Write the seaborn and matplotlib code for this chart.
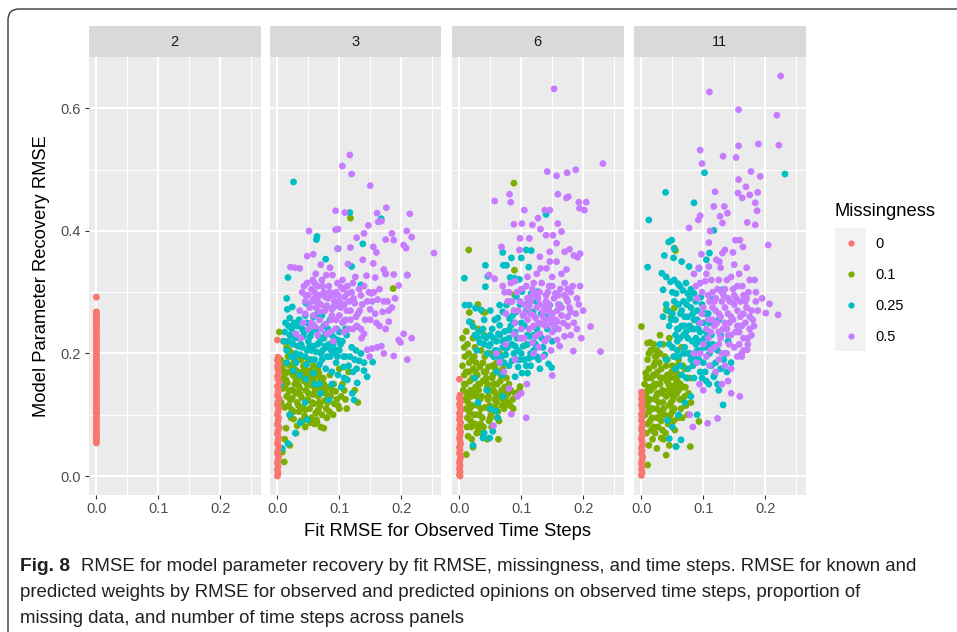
import matplotlib
matplotlib.use("Agg")
import matplotlib.pyplot as plt
import seaborn as sns
import pandas as pd
from matplotlib.patches import FancyBboxPatch
from matplotlib.transforms import IdentityTransform
from matplotlib.ticker import FixedLocator

# ---------------- data ----------------
panels = ["2", "3", "6", "11"]
levels = ["0", "0.1", "0.25", "0.5"]
colors = ["#F8766D", "#7CAE00", "#00BFC4", "#C77CFF"]
x_ticks = [0.0, 0.1, 0.2]
x_tick_labels = ["0.0", "0.1", "0.2"]
y_ticks = [0.0, 0.2, 0.4, 0.6]
y_tick_labels = ["0.0", "0.2", "0.4", "0.6"]

# Missingness 0 (fit RMSE ~0)
red_p2_y = [0.292, 0.268, 0.265, 0.262, 0.258, 0.255, 0.251, 0.247, 0.244, 0.240, 0.236, 0.232,
            0.228, 0.224, 0.220, 0.216, 0.212, 0.208, 0.204, 0.200, 0.196, 0.192, 0.188, 0.184,
            0.180, 0.176, 0.172, 0.168, 0.164, 0.160, 0.156, 0.152, 0.148, 0.144, 0.140, 0.136,
            0.132, 0.128, 0.124, 0.120, 0.116, 0.112, 0.108, 0.104, 0.100, 0.096, 0.092, 0.088,
            0.084, 0.080, 0.076, 0.072, 0.068, 0.064, 0.060, 0.057, 0.054]
red_p3 = [(0.000, 0.222), (0.001, 0.194), (0.000, 0.189), (0.002, 0.184), (0.000, 0.179), (0.001, 0.174),
          (0.002, 0.168), (0.000, 0.163), (0.001, 0.158), (0.003, 0.152), (0.000, 0.147), (0.002, 0.142),
          (0.001, 0.137), (0.000, 0.131), (0.003, 0.126), (0.001, 0.121), (0.000, 0.116), (0.002, 0.110),
          (0.001, 0.105), (0.000, 0.100), (0.002, 0.095), (0.001, 0.090), (0.000, 0.084), (0.003, 0.079),
          (0.001, 0.074), (0.000, 0.069), (0.002, 0.063), (0.001, 0.058), (0.000, 0.053), (0.002, 0.048),
          (0.001, 0.042), (0.000, 0.037), (0.002, 0.032), (0.001, 0.026), (0.000, 0.021), (0.001, 0.016),
          (0.000, 0.010), (0.001, 0.005), (0.000, 0.000)]
red_p6 = [(0.000, 0.158), (0.001, 0.132), (0.000, 0.127), (0.002, 0.122), (0.000, 0.117), (0.001, 0.112),
          (0.002, 0.107), (0.000, 0.102), (0.001, 0.097), (0.000, 0.092), (0.002, 0.087), (0.001, 0.082),
          (0.000, 0.077), (0.002, 0.072), (0.001, 0.067), (0.000, 0.062), (0.001, 0.057), (0.002, 0.052),
          (0.000, 0.047), (0.001, 0.042), (0.000, 0.037), (0.002, 0.032), (0.001, 0.027), (0.000, 0.022),
          (0.001, 0.017), (0.000, 0.012), (0.001, 0.007), (0.000, 0.002), (0.001, 0.000)]
red_p11 = [(0.000, 0.137), (0.001, 0.131), (0.000, 0.126), (0.002, 0.121), (0.000, 0.116), (0.001, 0.111),
           (0.002, 0.106), (0.000, 0.101), (0.001, 0.096), (0.000, 0.091), (0.002, 0.086), (0.001, 0.081),
           (0.000, 0.076), (0.002, 0.071), (0.001, 0.066), (0.000, 0.061), (0.001, 0.056), (0.002, 0.051),
           (0.000, 0.046), (0.001, 0.041), (0.000, 0.036), (0.002, 0.031), (0.001, 0.026), (0.000, 0.021),
           (0.001, 0.016), (0.000, 0.011), (0.001, 0.006), (0.000, 0.001)]

# Panel 3
green_p3 = [(0.005, 0.190), (0.008, 0.175), (0.010, 0.160), (0.012, 0.145), (0.015, 0.130), (0.018, 0.115),
            (0.020, 0.100), (0.022, 0.180), (0.025, 0.165), (0.028, 0.150), (0.030, 0.135), (0.032, 0.120),
            (0.035, 0.105), (0.038, 0.090), (0.040, 0.170), (0.043, 0.155), (0.046, 0.140), (0.049, 0.125),
            (0.052, 0.110), (0.055, 0.095), (0.058, 0.180), (0.060, 0.160), (0.063, 0.145), (0.066, 0.130),
            (0.069, 0.115), (0.072, 0.100), (0.075, 0.150), (0.078, 0.135), (0.081, 0.120), (0.084, 0.105),
            (0.088, 0.140), (0.092, 0.118), (0.096, 0.125), (0.100, 0.110), (0.105, 0.150), (0.110, 0.125),
            (0.060, 0.085), (0.045, 0.080), (0.030, 0.070), (0.012, 0.060), (0.020, 0.050), (0.011, 0.023),
            (0.008, 0.039), (0.003, 0.235), (0.010, 0.220), (0.118, 0.421), (0.187, 0.306), (0.078, 0.276),
            (0.015, 0.210), (0.035, 0.195), (0.050, 0.190), (0.065, 0.175), (0.085, 0.165), (0.100, 0.175),
            (0.115, 0.170), (0.125, 0.140), (0.130, 0.120), (0.070, 0.080), (0.075, 0.078), (0.040, 0.088),
            (0.025, 0.140), (0.018, 0.170), (0.048, 0.168), (0.068, 0.152), (0.090, 0.100), (0.006, 0.120)]
green_p3_more = [(0.007, 0.150), (0.009, 0.185), (0.013, 0.168), (0.016, 0.152), (0.019, 0.138), (0.021, 0.124),
                 (0.023, 0.108), (0.026, 0.093), (0.027, 0.188), (0.031, 0.172), (0.033, 0.158), (0.036, 0.143),
                 (0.039, 0.128), (0.041, 0.112), (0.044, 0.098), (0.047, 0.183), (0.051, 0.162), (0.054, 0.148),
                 (0.057, 0.133), (0.059, 0.118), (0.062, 0.103), (0.064, 0.088), (0.067, 0.168), (0.071, 0.158),
                 (0.073, 0.140), (0.076, 0.123), (0.079, 0.110), (0.083, 0.145), (0.086, 0.130), (0.091, 0.150),
                 (0.094, 0.138), (0.098, 0.115), (0.103, 0.130), (0.108, 0.140), (0.112, 0.110), (0.017, 0.195),
                 (0.024, 0.200), (0.042, 0.180), (0.014, 0.078), (0.032, 0.082), (0.053, 0.087), (0.080, 0.095),
                 (0.063, 0.092)]
green_p3_core = [(0.010, 0.170), (0.014, 0.157), (0.017, 0.182), (0.021, 0.140), (0.024, 0.127), (0.027, 0.175),
                 (0.029, 0.160), (0.034, 0.148), (0.037, 0.133), (0.041, 0.163), (0.044, 0.177), (0.048, 0.150),
                 (0.050, 0.135), (0.053, 0.172), (0.056, 0.158), (0.061, 0.140), (0.064, 0.165), (0.068, 0.120),
                 (0.071, 0.145), (0.074, 0.160), (0.009, 0.143), (0.012, 0.112), (0.022, 0.095), (0.034, 0.115),
                 (0.045, 0.108), (0.056, 0.120), (0.066, 0.108), (0.077, 0.142), (0.082, 0.130), (0.038, 0.190),
                 (0.019, 0.205), (0.026, 0.105)]
cyan_p3 = [(0.026, 0.480), (0.117, 0.430), (0.064, 0.391), (0.063, 0.386), (0.098, 0.371), (0.138, 0.379),
           (0.078, 0.354), (0.168, 0.420), (0.017, 0.324), (0.120, 0.342), (0.175, 0.330), (0.210, 0.328),
           (0.135, 0.312), (0.015, 0.290), (0.016, 0.272), (0.024, 0.276), (0.046, 0.282), (0.072, 0.262),
           (0.091, 0.276), (0.129, 0.244), (0.107, 0.252), (0.086, 0.232), (0.010, 0.220), (0.015, 0.205),
           (0.020, 0.230), (0.025, 0.215), (0.030, 0.200), (0.035, 0.225), (0.040, 0.210), (0.045, 0.195),
           (0.050, 0.220), (0.055, 0.205), (0.060, 0.190), (0.065, 0.215), (0.070, 0.200), (0.075, 0.225),
           (0.080, 0.210), (0.085, 0.195), (0.090, 0.215), (0.095, 0.185), (0.100, 0.205), (0.105, 0.220),
           (0.110, 0.195), (0.115, 0.180), (0.120, 0.210), (0.125, 0.190), (0.030, 0.185), (0.040, 0.240),
           (0.055, 0.235), (0.068, 0.182), (0.078, 0.175), (0.088, 0.170), (0.098, 0.165), (0.108, 0.160),
           (0.128, 0.175), (0.135, 0.200), (0.140, 0.185), (0.145, 0.162), (0.140, 0.172), (0.129, 0.152),
           (0.124, 0.124), (0.121, 0.135), (0.113, 0.157), (0.154, 0.186), (0.094, 0.206), (0.107, 0.195),
           (0.017, 0.053), (0.008, 0.045), (0.029, 0.070), (0.037, 0.087), (0.048, 0.092), (0.083, 0.124),
           (0.070, 0.135), (0.020, 0.100), (0.045, 0.120), (0.060, 0.150), (0.005, 0.150)]
cyan_p3_more = [(0.012, 0.235), (0.018, 0.245), (0.022, 0.195), (0.027, 0.250), (0.033, 0.212), (0.037, 0.198),
                (0.042, 0.228), (0.047, 0.182), (0.052, 0.212), (0.057, 0.248), (0.062, 0.203), (0.067, 0.228),
                (0.072, 0.190), (0.077, 0.212), (0.082, 0.240), (0.087, 0.205), (0.092, 0.225), (0.097, 0.195),
                (0.102, 0.215), (0.107, 0.178), (0.112, 0.230), (0.117, 0.195), (0.122, 0.170), (0.127, 0.205),
                (0.132, 0.188), (0.026, 0.172), (0.036, 0.165), (0.046, 0.158), (0.058, 0.168), (0.068, 0.150),
                (0.088, 0.150), (0.103, 0.145), (0.015, 0.185), (0.058, 0.260), (0.075, 0.245), (0.048, 0.250),
                (0.020, 0.258), (0.110, 0.240), (0.096, 0.240)]
cyan_p3_core = [(0.018, 0.220), (0.023, 0.240), (0.028, 0.225), (0.032, 0.245), (0.038, 0.215), (0.043, 0.235),
                (0.048, 0.205), (0.053, 0.228), (0.058, 0.212), (0.063, 0.240), (0.068, 0.218), (0.073, 0.205),
                (0.078, 0.232), (0.083, 0.215), (0.088, 0.230), (0.093, 0.200), (0.098, 0.222), (0.035, 0.255),
                (0.045, 0.262), (0.065, 0.265), (0.085, 0.255), (0.100, 0.235), (0.013, 0.250), (0.028, 0.195),
                (0.055, 0.190), (0.080, 0.195)]
purple_p3 = [(0.117, 0.524), (0.105, 0.506), (0.120, 0.493), (0.150, 0.474), (0.094, 0.433), (0.109, 0.430),
             (0.161, 0.429), (0.176, 0.438), (0.214, 0.428), (0.163, 0.415), (0.168, 0.416), (0.147, 0.409),
             (0.051, 0.400), (0.094, 0.402), (0.098, 0.403), (0.140, 0.396), (0.128, 0.389), (0.185, 0.396),
             (0.209, 0.400), (0.217, 0.390), (0.175, 0.386), (0.188, 0.385), (0.204, 0.377), (0.208, 0.372),
             (0.253, 0.364), (0.118, 0.373), (0.155, 0.374), (0.160, 0.365), (0.048, 0.359), (0.058, 0.362),
             (0.097, 0.371), (0.021, 0.341), (0.028, 0.340), (0.036, 0.339), (0.070, 0.345), (0.079, 0.328),
             (0.089, 0.328), (0.114, 0.346), (0.138, 0.353), (0.155, 0.347), (0.172, 0.337), (0.126, 0.325),
             (0.144, 0.327), (0.158, 0.324), (0.175, 0.330), (0.188, 0.329), (0.196, 0.311), (0.210, 0.328),
             (0.040, 0.300), (0.048, 0.315), (0.055, 0.305), (0.060, 0.290), (0.065, 0.310), (0.045, 0.285),
             (0.052, 0.275), (0.058, 0.262), (0.070, 0.280), (0.075, 0.300), (0.082, 0.290), (0.088, 0.272),
             (0.095, 0.300), (0.100, 0.285), (0.108, 0.292), (0.112, 0.270), (0.120, 0.300), (0.125, 0.282),
             (0.130, 0.265), (0.135, 0.295), (0.140, 0.310), (0.145, 0.285), (0.150, 0.272), (0.156, 0.300),
             (0.162, 0.288), (0.170, 0.268), (0.178, 0.285), (0.185, 0.275), (0.036, 0.270), (0.042, 0.250),
             (0.050, 0.240), (0.060, 0.245), (0.068, 0.255), (0.078, 0.248), (0.085, 0.235), (0.095, 0.255),
             (0.105, 0.250), (0.115, 0.240), (0.030, 0.232), (0.038, 0.225), (0.065, 0.230), (0.090, 0.220),
             (0.100, 0.262), (0.128, 0.245), (0.140, 0.232), (0.160, 0.250), (0.175, 0.240), (0.145, 0.206),
             (0.153, 0.208), (0.161, 0.210), (0.172, 0.200), (0.188, 0.196), (0.196, 0.222), (0.204, 0.232),
             (0.210, 0.190), (0.217, 0.225), (0.199, 0.218), (0.168, 0.212), (0.149, 0.195), (0.136, 0.225),
             (0.122, 0.240), (0.180, 0.252), (0.118, 0.255)]
purple_p3_more = [(0.043, 0.310), (0.050, 0.295), (0.057, 0.320), (0.062, 0.275), (0.067, 0.295), (0.072, 0.320),
                  (0.077, 0.270), (0.083, 0.310), (0.087, 0.255), (0.092, 0.285), (0.097, 0.315), (0.102, 0.275),
                  (0.106, 0.305), (0.110, 0.255), (0.116, 0.285), (0.122, 0.315), (0.127, 0.260), (0.132, 0.305),
                  (0.137, 0.280), (0.142, 0.255), (0.148, 0.300), (0.153, 0.285), (0.158, 0.265), (0.165, 0.305),
                  (0.172, 0.285), (0.180, 0.270), (0.190, 0.290), (0.055, 0.250), (0.070, 0.240), (0.080, 0.232),
                  (0.094, 0.240), (0.108, 0.235), (0.135, 0.240), (0.150, 0.255), (0.165, 0.245), (0.045, 0.265),
                  (0.062, 0.330), (0.085, 0.340), (0.105, 0.320)]
purple_p3_core = [(0.060, 0.300), (0.065, 0.285), (0.070, 0.295), (0.073, 0.310), (0.078, 0.292), (0.080, 0.278),
                  (0.085, 0.300), (0.090, 0.295), (0.093, 0.278), (0.098, 0.295), (0.103, 0.308), (0.108, 0.280),
                  (0.113, 0.298), (0.118, 0.270), (0.123, 0.290), (0.060, 0.315), (0.068, 0.268), (0.088, 0.262),
                  (0.056, 0.285), (0.046, 0.295), (0.113, 0.310), (0.133, 0.270), (0.152, 0.298)]

# Panel 6
green_p6 = [(0.088, 0.478), (0.015, 0.369), (0.089, 0.336), (0.005, 0.225), (0.008, 0.210), (0.011, 0.236),
            (0.016, 0.267), (0.038, 0.268), (0.041, 0.267), (0.108, 0.214), (0.089, 0.296), (0.098, 0.146),
            (0.097, 0.140), (0.063, 0.060), (0.022, 0.047), (0.011, 0.035), (0.030, 0.280), (0.020, 0.250),
            (0.005, 0.180), (0.008, 0.165), (0.010, 0.150), (0.012, 0.135), (0.014, 0.120), (0.016, 0.105),
            (0.018, 0.090), (0.020, 0.190), (0.022, 0.175), (0.024, 0.160), (0.026, 0.145), (0.028, 0.130),
            (0.030, 0.115), (0.032, 0.100), (0.034, 0.085), (0.036, 0.070), (0.038, 0.185), (0.040, 0.170),
            (0.042, 0.155), (0.044, 0.140), (0.046, 0.125), (0.048, 0.110), (0.050, 0.095), (0.052, 0.080),
            (0.054, 0.165), (0.056, 0.150), (0.058, 0.135), (0.060, 0.120), (0.062, 0.105), (0.064, 0.090),
            (0.066, 0.155), (0.068, 0.140), (0.070, 0.125), (0.072, 0.110), (0.075, 0.130), (0.078, 0.120),
            (0.082, 0.115), (0.086, 0.125), (0.050, 0.200), (0.060, 0.185), (0.070, 0.175), (0.015, 0.200),
            (0.025, 0.210), (0.045, 0.060), (0.028, 0.070), (0.012, 0.080), (0.020, 0.060), (0.035, 0.205),
            (0.080, 0.150), (0.090, 0.135), (0.065, 0.200), (0.018, 0.140), (0.033, 0.150), (0.047, 0.178)]
green_p6_more = [(0.006, 0.140), (0.009, 0.125), (0.011, 0.110), (0.013, 0.095), (0.015, 0.170), (0.017, 0.155),
                 (0.019, 0.130), (0.021, 0.115), (0.023, 0.100), (0.025, 0.085), (0.027, 0.185), (0.029, 0.165),
                 (0.031, 0.140), (0.033, 0.125), (0.035, 0.110), (0.037, 0.095), (0.039, 0.080), (0.041, 0.195),
                 (0.043, 0.160), (0.045, 0.145), (0.047, 0.130), (0.049, 0.115), (0.051, 0.100), (0.053, 0.180),
                 (0.055, 0.140), (0.057, 0.125), (0.059, 0.110), (0.061, 0.095), (0.063, 0.170), (0.067, 0.130),
                 (0.069, 0.115), (0.073, 0.145), (0.076, 0.160), (0.079, 0.135), (0.083, 0.140), (0.087, 0.110),
                 (0.009, 0.195), (0.013, 0.215), (0.022, 0.225), (0.030, 0.240), (0.040, 0.230)]
green_p6_core = [(0.008, 0.150), (0.011, 0.170), (0.013, 0.128), (0.016, 0.185), (0.018, 0.112), (0.021, 0.160),
                 (0.023, 0.138), (0.026, 0.170), (0.028, 0.100), (0.031, 0.150), (0.033, 0.178), (0.036, 0.130),
                 (0.038, 0.155), (0.041, 0.112), (0.043, 0.170), (0.046, 0.150), (0.048, 0.090), (0.051, 0.140),
                 (0.053, 0.160), (0.056, 0.112), (0.058, 0.175), (0.061, 0.150), (0.064, 0.130), (0.067, 0.165),
                 (0.071, 0.140), (0.074, 0.118), (0.024, 0.195), (0.014, 0.065), (0.030, 0.078), (0.019, 0.080)]
cyan_p6 = [(0.140, 0.427), (0.008, 0.323), (0.042, 0.344), (0.042, 0.309), (0.046, 0.326), (0.071, 0.344),
           (0.076, 0.344), (0.070, 0.365), (0.084, 0.356), (0.100, 0.356), (0.108, 0.369), (0.116, 0.368),
           (0.112, 0.341), (0.082, 0.324), (0.089, 0.323), (0.097, 0.321), (0.009, 0.279), (0.016, 0.279),
           (0.026, 0.274), (0.035, 0.271), (0.016, 0.252), (0.022, 0.244), (0.032, 0.236), (0.065, 0.279),
           (0.076, 0.279), (0.084, 0.285), (0.092, 0.293), (0.101, 0.301), (0.116, 0.298), (0.127, 0.301),
           (0.057, 0.255), (0.065, 0.246), (0.073, 0.236), (0.081, 0.257), (0.092, 0.268), (0.103, 0.262),
           (0.119, 0.268), (0.146, 0.279), (0.162, 0.279), (0.140, 0.260), (0.030, 0.225), (0.040, 0.215),
           (0.050, 0.230), (0.060, 0.220), (0.070, 0.210), (0.080, 0.225), (0.090, 0.212), (0.100, 0.200),
           (0.110, 0.215), (0.120, 0.205), (0.045, 0.200), (0.055, 0.195), (0.065, 0.185), (0.075, 0.198),
           (0.085, 0.188), (0.095, 0.178), (0.105, 0.190), (0.115, 0.180), (0.125, 0.195), (0.130, 0.175),
           (0.038, 0.240), (0.028, 0.205), (0.060, 0.170), (0.090, 0.162), (0.101, 0.168), (0.144, 0.183),
           (0.149, 0.177), (0.135, 0.210), (0.120, 0.230), (0.038, 0.062), (0.049, 0.062), (0.040, 0.070),
           (0.054, 0.073), (0.062, 0.095), (0.059, 0.106), (0.022, 0.050), (0.030, 0.120), (0.045, 0.140),
           (0.050, 0.110), (0.070, 0.130), (0.025, 0.160)]
cyan_p6_more = [(0.025, 0.230), (0.033, 0.218), (0.043, 0.225), (0.048, 0.212), (0.053, 0.240), (0.058, 0.205),
                (0.063, 0.232), (0.068, 0.195), (0.073, 0.222), (0.078, 0.210), (0.083, 0.245), (0.088, 0.200),
                (0.093, 0.225), (0.098, 0.190), (0.103, 0.212), (0.108, 0.180), (0.113, 0.228), (0.118, 0.195),
                (0.123, 0.215), (0.128, 0.190), (0.133, 0.225), (0.138, 0.198), (0.142, 0.240), (0.062, 0.258),
                (0.070, 0.268), (0.086, 0.262), (0.098, 0.280), (0.108, 0.270), (0.112, 0.285), (0.124, 0.285),
                (0.132, 0.265), (0.155, 0.240), (0.150, 0.220), (0.080, 0.180), (0.070, 0.165), (0.110, 0.168),
                (0.040, 0.255), (0.050, 0.270)]
cyan_p6_core = [(0.050, 0.215), (0.055, 0.225), (0.060, 0.205), (0.065, 0.230), (0.070, 0.220), (0.075, 0.208),
                (0.080, 0.238), (0.085, 0.215), (0.090, 0.235), (0.095, 0.205), (0.100, 0.225), (0.105, 0.245),
                (0.110, 0.230), (0.115, 0.200), (0.120, 0.218), (0.062, 0.195), (0.072, 0.185), (0.092, 0.190),
                (0.112, 0.192), (0.040, 0.228), (0.125, 0.240), (0.088, 0.250), (0.100, 0.250)]
purple_p6 = [(0.153, 0.632), (0.232, 0.510), (0.142, 0.497), (0.157, 0.490), (0.174, 0.495), (0.188, 0.500),
             (0.159, 0.460), (0.173, 0.454), (0.176, 0.456), (0.193, 0.447), (0.205, 0.447), (0.194, 0.437),
             (0.202, 0.434), (0.057, 0.449), (0.081, 0.460), (0.083, 0.447), (0.105, 0.434), (0.138, 0.434),
             (0.146, 0.434), (0.088, 0.411), (0.101, 0.412), (0.118, 0.410), (0.127, 0.421), (0.159, 0.412),
             (0.131, 0.403), (0.140, 0.393), (0.151, 0.393), (0.157, 0.380), (0.165, 0.399), (0.098, 0.388),
             (0.113, 0.388), (0.068, 0.374), (0.146, 0.366), (0.170, 0.366), (0.178, 0.370), (0.185, 0.360),
             (0.195, 0.363), (0.191, 0.357), (0.097, 0.369), (0.130, 0.358), (0.146, 0.350), (0.157, 0.350),
             (0.173, 0.337), (0.141, 0.339), (0.131, 0.339), (0.048, 0.328), (0.057, 0.322), (0.070, 0.310),
             (0.080, 0.300), (0.090, 0.318), (0.100, 0.305), (0.110, 0.290), (0.120, 0.315), (0.130, 0.300),
             (0.140, 0.285), (0.150, 0.310), (0.160, 0.295), (0.170, 0.315), (0.180, 0.300), (0.190, 0.290),
             (0.195, 0.310), (0.085, 0.285), (0.095, 0.270), (0.105, 0.280), (0.115, 0.265), (0.125, 0.275),
             (0.135, 0.260), (0.145, 0.270), (0.155, 0.255), (0.165, 0.275), (0.175, 0.260), (0.185, 0.250),
             (0.075, 0.265), (0.090, 0.250), (0.100, 0.240), (0.110, 0.255), (0.120, 0.245), (0.130, 0.232),
             (0.140, 0.245), (0.150, 0.235), (0.160, 0.240), (0.170, 0.228), (0.105, 0.225), (0.118, 0.218),
             (0.128, 0.210), (0.138, 0.220), (0.148, 0.205), (0.162, 0.212), (0.180, 0.230), (0.200, 0.270),
             (0.110, 0.325), (0.125, 0.330), (0.150, 0.325), (0.165, 0.330), (0.212, 0.244), (0.228, 0.203),
             (0.197, 0.225), (0.184, 0.204), (0.084, 0.101), (0.108, 0.095), (0.109, 0.150), (0.100, 0.135),
             (0.094, 0.130), (0.065, 0.186), (0.080, 0.143), (0.055, 0.082), (0.150, 0.164), (0.072, 0.170),
             (0.090, 0.190), (0.060, 0.200), (0.075, 0.215)]
purple_p6_more = [(0.073, 0.300), (0.078, 0.285), (0.083, 0.315), (0.088, 0.270), (0.093, 0.300), (0.098, 0.285),
                  (0.103, 0.262), (0.108, 0.310), (0.113, 0.278), (0.118, 0.295), (0.123, 0.258), (0.127, 0.290),
                  (0.133, 0.315), (0.137, 0.275), (0.143, 0.300), (0.147, 0.258), (0.153, 0.290), (0.158, 0.270),
                  (0.163, 0.305), (0.168, 0.250), (0.173, 0.290), (0.178, 0.275), (0.183, 0.310), (0.188, 0.265),
                  (0.193, 0.280), (0.113, 0.240), (0.123, 0.228), (0.133, 0.248), (0.143, 0.225), (0.153, 0.245),
                  (0.158, 0.222), (0.175, 0.245), (0.190, 0.240), (0.120, 0.200), (0.135, 0.195), (0.098, 0.225),
                  (0.088, 0.232)]
purple_p6_core = [(0.105, 0.265), (0.110, 0.275), (0.115, 0.285), (0.120, 0.262), (0.125, 0.298), (0.130, 0.280),
                  (0.135, 0.268), (0.140, 0.295), (0.145, 0.280), (0.150, 0.265), (0.155, 0.298), (0.160, 0.280),
                  (0.165, 0.262), (0.170, 0.295), (0.175, 0.285), (0.180, 0.268), (0.128, 0.250), (0.138, 0.255),
                  (0.148, 0.250), (0.158, 0.252), (0.118, 0.305), (0.145, 0.310), (0.175, 0.305)]

# Panel 11
green_p11 = [(0.000, 0.244), (0.053, 0.372), (0.055, 0.368), (0.040, 0.271), (0.053, 0.274), (0.048, 0.260),
             (0.010, 0.217), (0.014, 0.218), (0.018, 0.206), (0.024, 0.195), (0.007, 0.168), (0.079, 0.048),
             (0.056, 0.048), (0.040, 0.034), (0.010, 0.018), (0.093, 0.089), (0.005, 0.150), (0.008, 0.135),
             (0.010, 0.120), (0.012, 0.105), (0.014, 0.090), (0.016, 0.075), (0.018, 0.060), (0.020, 0.180),
             (0.022, 0.165), (0.024, 0.150), (0.026, 0.135), (0.028, 0.120), (0.030, 0.105), (0.032, 0.090),
             (0.034, 0.075), (0.036, 0.060), (0.038, 0.195), (0.040, 0.180), (0.042, 0.165), (0.044, 0.150),
             (0.046, 0.135), (0.048, 0.120), (0.050, 0.105), (0.052, 0.090), (0.054, 0.075), (0.056, 0.170),
             (0.058, 0.155), (0.060, 0.140), (0.062, 0.125), (0.064, 0.110), (0.066, 0.095), (0.068, 0.145),
             (0.070, 0.130), (0.072, 0.115), (0.075, 0.100), (0.030, 0.200), (0.050, 0.210), (0.060, 0.190),
             (0.070, 0.175), (0.020, 0.215), (0.010, 0.190), (0.006, 0.100), (0.025, 0.045), (0.045, 0.050),
             (0.080, 0.120), (0.065, 0.210), (0.078, 0.160), (0.030, 0.230), (0.045, 0.225), (0.015, 0.140),
             (0.035, 0.160), (0.052, 0.145), (0.025, 0.095), (0.043, 0.085)]
green_p11_more = [(0.007, 0.130), (0.009, 0.115), (0.011, 0.160), (0.013, 0.145), (0.015, 0.110), (0.017, 0.095),
                  (0.019, 0.165), (0.021, 0.150), (0.023, 0.125), (0.025, 0.110), (0.027, 0.080), (0.029, 0.185),
                  (0.031, 0.160), (0.033, 0.135), (0.035, 0.120), (0.037, 0.100), (0.039, 0.070), (0.041, 0.155),
                  (0.043, 0.140), (0.045, 0.115), (0.047, 0.100), (0.049, 0.170), (0.051, 0.125), (0.053, 0.110),
                  (0.055, 0.150), (0.057, 0.135), (0.059, 0.095), (0.061, 0.165), (0.063, 0.150), (0.065, 0.125),
                  (0.067, 0.180), (0.071, 0.145), (0.073, 0.160), (0.076, 0.135), (0.012, 0.200), (0.022, 0.195),
                  (0.035, 0.215), (0.055, 0.195), (0.008, 0.070), (0.020, 0.080)]
green_p11_core = [(0.008, 0.160), (0.010, 0.140), (0.012, 0.175), (0.014, 0.125), (0.016, 0.160), (0.018, 0.110),
                  (0.020, 0.145), (0.022, 0.185), (0.024, 0.130), (0.026, 0.170), (0.028, 0.095), (0.030, 0.150),
                  (0.032, 0.175), (0.034, 0.140), (0.036, 0.110), (0.038, 0.160), (0.040, 0.130), (0.042, 0.190),
                  (0.044, 0.095), (0.046, 0.160), (0.048, 0.140), (0.050, 0.180), (0.052, 0.130), (0.054, 0.160),
                  (0.058, 0.180), (0.015, 0.205), (0.025, 0.205), (0.010, 0.085), (0.022, 0.070), (0.032, 0.062),
                  (0.012, 0.050)]
cyan_p11 = [(0.232, 0.493), (0.102, 0.495), (0.039, 0.463), (0.085, 0.446), (0.012, 0.418), (0.117, 0.401),
            (0.010, 0.341), (0.044, 0.382), (0.049, 0.385), (0.053, 0.371), (0.037, 0.360), (0.052, 0.356),
            (0.065, 0.350), (0.110, 0.364), (0.105, 0.353), (0.093, 0.339), (0.077, 0.342), (0.033, 0.331),
            (0.040, 0.325), (0.035, 0.304), (0.047, 0.317), (0.053, 0.320), (0.059, 0.314), (0.056, 0.298),
            (0.067, 0.303), (0.075, 0.298), (0.085, 0.298), (0.096, 0.292), (0.115, 0.288), (0.131, 0.304),
            (0.040, 0.280), (0.050, 0.265), (0.060, 0.280), (0.070, 0.260), (0.080, 0.275), (0.090, 0.255),
            (0.100, 0.265), (0.110, 0.250), (0.045, 0.245), (0.055, 0.230), (0.065, 0.245), (0.075, 0.225),
            (0.085, 0.240), (0.095, 0.220), (0.105, 0.235), (0.115, 0.215), (0.050, 0.210), (0.060, 0.195),
            (0.070, 0.210), (0.080, 0.190), (0.090, 0.205), (0.100, 0.185), (0.110, 0.200), (0.120, 0.185),
            (0.040, 0.190), (0.055, 0.175), (0.065, 0.165), (0.075, 0.175), (0.085, 0.160), (0.095, 0.170),
            (0.105, 0.155), (0.118, 0.165), (0.128, 0.175), (0.125, 0.140), (0.117, 0.162), (0.109, 0.150),
            (0.132, 0.116), (0.135, 0.200), (0.140, 0.220), (0.125, 0.255), (0.145, 0.185), (0.035, 0.260),
            (0.030, 0.215), (0.045, 0.061), (0.056, 0.048), (0.064, 0.059), (0.050, 0.080), (0.042, 0.091),
            (0.060, 0.100), (0.070, 0.120), (0.080, 0.130), (0.090, 0.100)]
cyan_p11_more = [(0.043, 0.270), (0.048, 0.255), (0.053, 0.285), (0.058, 0.240), (0.063, 0.265), (0.068, 0.230),
                 (0.073, 0.280), (0.078, 0.245), (0.083, 0.265), (0.088, 0.225), (0.093, 0.250), (0.098, 0.280),
                 (0.103, 0.210), (0.108, 0.265), (0.113, 0.230), (0.118, 0.250), (0.123, 0.205), (0.128, 0.230),
                 (0.133, 0.190), (0.045, 0.215), (0.052, 0.195), (0.058, 0.220), (0.063, 0.180), (0.068, 0.200),
                 (0.073, 0.160), (0.078, 0.200), (0.083, 0.180), (0.088, 0.215), (0.093, 0.190), (0.098, 0.160),
                 (0.103, 0.170), (0.113, 0.180), (0.123, 0.150), (0.138, 0.170), (0.062, 0.310), (0.072, 0.315),
                 (0.080, 0.305), (0.050, 0.300)]
cyan_p11_core = [(0.055, 0.255), (0.060, 0.240), (0.065, 0.270), (0.070, 0.245), (0.075, 0.260), (0.080, 0.240),
                 (0.085, 0.255), (0.090, 0.270), (0.095, 0.235), (0.100, 0.250), (0.105, 0.265), (0.062, 0.225),
                 (0.072, 0.235), (0.082, 0.220), (0.092, 0.240), (0.102, 0.225), (0.068, 0.285), (0.078, 0.290),
                 (0.088, 0.285), (0.058, 0.205), (0.075, 0.200), (0.095, 0.205), (0.108, 0.215), (0.085, 0.195)]
purple_p11 = [(0.225, 0.653), (0.110, 0.627), (0.157, 0.598), (0.219, 0.589), (0.095, 0.532), (0.098, 0.510),
              (0.132, 0.522), (0.153, 0.520), (0.157, 0.539), (0.189, 0.542), (0.222, 0.540), (0.177, 0.497),
              (0.192, 0.489), (0.157, 0.484), (0.169, 0.472), (0.175, 0.459), (0.156, 0.462), (0.163, 0.454),
              (0.119, 0.464), (0.117, 0.440), (0.134, 0.440), (0.139, 0.429), (0.127, 0.424), (0.131, 0.413),
              (0.095, 0.425), (0.092, 0.418), (0.077, 0.405), (0.171, 0.414), (0.184, 0.410), (0.188, 0.463),
              (0.184, 0.446), (0.187, 0.433), (0.111, 0.400), (0.152, 0.385), (0.159, 0.385), (0.164, 0.374),
              (0.205, 0.377), (0.109, 0.381), (0.135, 0.369), (0.148, 0.365), (0.131, 0.364), (0.097, 0.362),
              (0.121, 0.353), (0.126, 0.350), (0.109, 0.342), (0.085, 0.330), (0.095, 0.315), (0.105, 0.330),
              (0.115, 0.300), (0.125, 0.320), (0.135, 0.305), (0.145, 0.325), (0.155, 0.310), (0.165, 0.295),
              (0.175, 0.320), (0.185, 0.300), (0.090, 0.290), (0.100, 0.275), (0.110, 0.285), (0.120, 0.270),
              (0.130, 0.285), (0.140, 0.265), (0.150, 0.280), (0.160, 0.260), (0.170, 0.275), (0.180, 0.255),
              (0.095, 0.250), (0.105, 0.240), (0.115, 0.255), (0.125, 0.235), (0.135, 0.250), (0.145, 0.230),
              (0.155, 0.245), (0.165, 0.225), (0.175, 0.240), (0.100, 0.215), (0.112, 0.205), (0.125, 0.215),
              (0.138, 0.200), (0.150, 0.210), (0.162, 0.195), (0.172, 0.215), (0.085, 0.200), (0.090, 0.185),
              (0.110, 0.180), (0.120, 0.170), (0.145, 0.175), (0.188, 0.270), (0.195, 0.290), (0.170, 0.340),
              (0.150, 0.345), (0.207, 0.281), (0.201, 0.266), (0.221, 0.263), (0.171, 0.206), (0.162, 0.200),
              (0.159, 0.130), (0.145, 0.135), (0.123, 0.094), (0.107, 0.086), (0.083, 0.080), (0.078, 0.100),
              (0.094, 0.150), (0.100, 0.140), (0.130, 0.150), (0.140, 0.155)]
purple_p11_more = [(0.088, 0.310), (0.093, 0.340), (0.098, 0.300), (0.103, 0.318), (0.108, 0.295), (0.113, 0.320),
                   (0.118, 0.285), (0.123, 0.305), (0.128, 0.340), (0.133, 0.295), (0.138, 0.320), (0.143, 0.285),
                   (0.148, 0.305), (0.153, 0.290), (0.158, 0.330), (0.163, 0.310), (0.168, 0.285), (0.173, 0.300),
                   (0.178, 0.270), (0.183, 0.320), (0.098, 0.265), (0.108, 0.255), (0.118, 0.245), (0.128, 0.260),
                   (0.138, 0.240), (0.148, 0.255), (0.158, 0.235), (0.168, 0.250), (0.178, 0.230), (0.108, 0.225),
                   (0.118, 0.210), (0.130, 0.200), (0.142, 0.215), (0.155, 0.195), (0.165, 0.205), (0.095, 0.200),
                   (0.105, 0.195), (0.135, 0.180), (0.125, 0.190), (0.185, 0.285)]
purple_p11_core = [(0.115, 0.275), (0.120, 0.290), (0.125, 0.265), (0.130, 0.300), (0.135, 0.275), (0.140, 0.290),
                   (0.145, 0.260), (0.150, 0.295), (0.155, 0.270), (0.160, 0.285), (0.165, 0.265), (0.170, 0.290),
                   (0.175, 0.260), (0.122, 0.250), (0.132, 0.240), (0.142, 0.250), (0.152, 0.235), (0.162, 0.245),
                   (0.172, 0.225), (0.128, 0.225), (0.140, 0.230), (0.158, 0.215), (0.112, 0.235), (0.182, 0.245)]

caption_bold = "Fig. 8"
caption_lines = [
    "RMSE for model parameter recovery by fit RMSE, missingness, and time steps. RMSE for known and",
    "predicted weights by RMSE for observed and predicted opinions on observed time steps, proportion of",
    "missing data, and number of time steps across panels",
]

# ---------------- build table ----------------
rows = []
def add(panel, level, pts):
    for x, y in pts:
        rows.append({"panel": panel, "miss": level, "fit": x, "rec": y})

add("2", "0", [(0.0, y) for y in red_p2_y])
groups = [
    ("3", green_p3 + green_p3_more + green_p3_core, cyan_p3 + cyan_p3_more + cyan_p3_core,
     purple_p3 + purple_p3_more + purple_p3_core, red_p3),
    ("6", green_p6 + green_p6_more + green_p6_core, cyan_p6 + cyan_p6_more + cyan_p6_core,
     purple_p6 + purple_p6_more + purple_p6_core, red_p6),
    ("11", green_p11 + green_p11_more + green_p11_core, cyan_p11 + cyan_p11_more + cyan_p11_core,
     purple_p11 + purple_p11_more + purple_p11_core, red_p11),
]
for p, g, c, m, r in groups:
    add(p, "0.1", g)
    add(p, "0.25", c)
    add(p, "0.5", m)
    add(p, "0", r)
df = pd.DataFrame(rows)
palette = dict(zip(levels, colors))

# ---------------- figure ----------------
sns.set_style("white")
plt.rcParams["font.family"] = ["Liberation Sans", "DejaVu Sans"]
W, H = 957, 632
fig = plt.figure(figsize=(W / 100, H / 100), dpi=100)
fig.patch.set_facecolor("white")

def fx(px):
    return px / W
def fy(py):
    return 1 - py / H

panel_left = [89, 270, 452, 634]
pw = 171.5
ptop, pbot = 57, 495
strip_top = 26
xlim = (-0.0120, 0.2652)
ylim = (-0.031, 0.684)
msize = 24

for i, p in enumerate(panels):
    L = panel_left[i]
    ax = fig.add_axes([fx(L), fy(pbot), pw / W, (pbot - ptop) / H])
    ax.set_facecolor("#EBEBEB")
    sub = df[df["panel"] == p]
    sns.scatterplot(data=sub, x="fit", y="rec", hue="miss", palette=palette,
                    hue_order=levels, s=msize, linewidth=0, alpha=1, legend=False,
                    ax=ax, zorder=3)
    ax.set_xlim(*xlim)
    ax.set_ylim(*ylim)
    ax.xaxis.set_major_locator(FixedLocator(x_ticks))
    ax.xaxis.set_minor_locator(FixedLocator([0.05, 0.15, 0.25]))
    ax.yaxis.set_major_locator(FixedLocator(y_ticks))
    ax.yaxis.set_minor_locator(FixedLocator([0.1, 0.3, 0.5]))
    ax.grid(which="major", color="white", linewidth=1.45, zorder=0)
    ax.grid(which="minor", color="white", linewidth=0.7, zorder=0)
    ax.set_axisbelow(True)
    for s in ax.spines.values():
        s.set_visible(False)
    ax.set_xlabel("")
    ax.set_ylabel("")
    ax.set_xticks(x_ticks)
    ax.set_xticklabels(x_tick_labels)
    ax.tick_params(axis="x", which="major", length=2.75, width=0.8, color="#333333",
                   pad=2.4, labelsize=10.5, labelcolor="#4D4D4D", direction="out", bottom=True)
    ax.tick_params(which="minor", length=0)
    if i == 0:
        ax.set_yticks(y_ticks)
        ax.set_yticklabels(y_tick_labels)
        ax.tick_params(axis="y", which="major", length=2.75, width=0.8, color="#333333",
                       pad=3.2, labelsize=10.5, labelcolor="#4D4D4D", direction="out", left=True)
    else:
        ax.tick_params(axis="y", which="major", length=0, labelleft=False)

    sax = fig.add_axes([fx(L), fy(ptop), pw / W, (ptop - strip_top) / H])
    sax.set_facecolor("#D9D9D9")
    sax.set_xticks([])
    sax.set_yticks([])
    for s in sax.spines.values():
        s.set_visible(False)
    sax.text(0.5, 0.5, p, ha="center", va="center", fontsize=10.5, color="#1A1A1A",
             transform=sax.transAxes)

# axis titles
fig.text(fx(447), fy(531), "Fit RMSE for Observed Time Steps", ha="center", va="center",
         fontsize=13.2, color="black")
fig.text(fx(42), fy(276), "Model Parameter Recovery RMSE", ha="center", va="center",
         rotation=90, fontsize=13.2, color="black")

# legend
fig.text(fx(835), fy(211), "Missingness", ha="left", va="center", fontsize=13.2, color="black")
lax = fig.add_axes([fx(835), fy(351), 31 / W, 123 / H])
lax.set_facecolor("#F2F2F2")
lax.set_xlim(0, 1)
lax.set_ylim(4, 0)
lax.set_xticks([])
lax.set_yticks([])
for s in lax.spines.values():
    s.set_visible(False)
key_y = [244, 275, 306, 337]
for k, (lev, col) in enumerate(zip(levels, colors)):
    lax.scatter([0.5], [k + 0.5], s=20, color=col, linewidth=0)
    fig.text(fx(875), fy(key_y[k]), lev, ha="left", va="center", fontsize=10.5, color="black")

# caption
fig.text(fx(20), fy(571), caption_bold, ha="left", va="baseline", fontsize=13.8,
         fontweight="bold", color="#231F20")
cap_family = ["Liberation Sans Narrow", "Liberation Sans", "DejaVu Sans"]
t1 = fig.text(fx(81), fy(571), caption_lines[0], ha="left", va="baseline", fontsize=14,
              family=cap_family, color="#231F20")
fig.canvas.draw()
r = fig.canvas.get_renderer()
w1 = t1.get_window_extent(r).width
fs = 14 * (925 - 81) / w1
t1.set_fontsize(fs)
fig.text(fx(20), fy(597), caption_lines[1], ha="left", va="baseline", fontsize=fs,
         family=cap_family, color="#231F20")
fig.text(fx(20), fy(623), caption_lines[2], ha="left", va="baseline", fontsize=fs,
         family=cap_family, color="#231F20")

# rounded border
border = FancyBboxPatch((8, -40), 1000, H - 9 + 40, boxstyle="round,pad=0,rounding_size=11",
                        transform=IdentityTransform(), facecolor="none", edgecolor="#3A3A3A",
                        linewidth=1.0)
fig.add_artist(border)

fig.savefig("out.png", dpi=100)
